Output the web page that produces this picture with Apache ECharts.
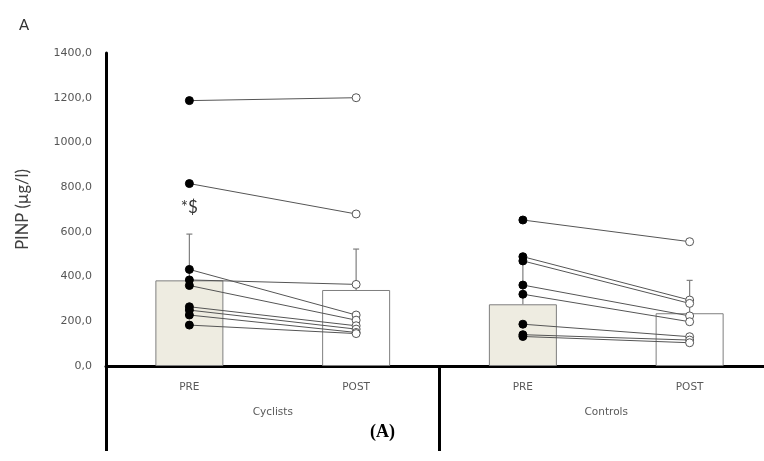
<!DOCTYPE html>
<html>
<head>
<meta charset="utf-8">
<script src="https://cdn.jsdelivr.net/npm/echarts@6/dist/echarts.min.js"></script>
<style>
html, body { margin: 0; padding: 0; background: #fff; }
#map_chart { width: 764px; height: 461px; }
</style>
</head>
<body>
<div id="map_chart"></div>
<script>
// data
var categories = ['PRE', 'POST', 'PRE', 'POST'];
var groups = ['Cyclists', 'Controls'];
var barMeans = [383, 340, 276, 236];
var barSD = [207, 183, 209, 147];
var yTicks = [0, 200, 400, 600, 800, 1000, 1200, 1400];

var cyclistsPre = [1187, 816, 432, 385, 360, 265, 250, 228, 183];
var cyclistsPost = [1200, 680, 228, 365, 205, 180, 165, 150, 145];
var controlsPre = [653, 489, 470, 362, 321, 187, 140, 132];
var controlsPost = [556, 295, 280, 224, 198, 131, 116, 104];

var Container = document.getElementById('map_chart');
var myChart = echarts.init(Container);

var font = 'Lato, "Open Sans", sans-serif';
var tickFont = '"DejaVu Sans", sans-serif';

// one line series per subject
var subjectSeries = [];
function addSubjects(pre, post, offset) {
	for (var i = 0; i < pre.length; i++) {
		var d = ['-', '-', '-', '-'];
		d[offset] = { value: pre[i], itemStyle: { color: '#000', borderColor: '#000' } };
		d[offset + 1] = { value: post[i], itemStyle: { color: '#fff', borderColor: '#555', borderWidth: 1 } };
		subjectSeries.push({
			type: 'line',
			data: d,
			symbol: 'circle',
			symbolSize: 8,
			lineStyle: { color: '#555', width: 1 },
			z: 5,
			animation: false
		});
	}
}
addSubjects(cyclistsPre, cyclistsPost, 0);
addSubjects(controlsPre, controlsPost, 2);

var errData = barMeans.map(function(m, i) { return [i, m, m + barSD[i]]; });

var option = {
	animation: false,
	grid: { left: 106, top: 53, bottom: 95, width: 667, containLabel: false, outerBoundsMode: 'none' },
	xAxis: [{
		type: 'category',
		data: categories,
		axisLine: { lineStyle: { color: '#000', width: 3 } },
		axisTick: { show: false },
		axisLabel: { color: '#595959', fontSize: 10.5, fontFamily: tickFont, margin: 16 }
	}, {
		type: 'category',
		data: groups,
		position: 'bottom',
		axisLine: { show: false },
		axisTick: { show: true, length: 85, lineStyle: { color: '#000', width: 3 } },
		axisLabel: { color: '#595959', fontSize: 10.5, fontFamily: tickFont, margin: 41 }
	}],
	yAxis: {
		type: 'value',
		min: yTicks[0],
		max: yTicks[yTicks.length - 1],
		interval: 200,
		name: 'PINP (µg/l)',
		nameLocation: 'middle',
		nameGap: 75,
		nameTextStyle: { color: '#404040', fontSize: 16.5, fontFamily: font },
		axisLine: { show: true, lineStyle: { color: '#000', width: 3 } },
		axisTick: { show: false },
		splitLine: { show: false },
		axisLabel: {
			color: '#555', fontSize: 11, fontFamily: tickFont, margin: 14,
			formatter: function(v) { return v.toFixed(1).replace('.', ','); }
		}
	},
	series: [{
		type: 'bar',
		barWidth: 68,
		data: barMeans.map(function(v, i) {
			return { value: v, itemStyle: { color: i % 2 === 0 ? '#eeece1' : '#ffffff' } };
		}),
		itemStyle: { borderColor: '#7f7f7f', borderWidth: 1 },
		z: 2,
		markPoint: {
			symbol: 'circle',
			symbolSize: 0,
			data: [{ coord: [0, 707], value: '*$' }],
			label: { show: true, formatter: '*$', color: '#333', fontSize: 17, fontFamily: font, position: 'inside' }
		}
	}, {
		type: 'custom',
		data: errData,
		z: 3,
		renderItem: function(params, api) {
			var base = api.coord([api.value(0), api.value(1)]);
			var top = api.coord([api.value(0), api.value(2)]);
			var st = { stroke: '#7f7f7f', lineWidth: 1.2 };
			return {
				type: 'group',
				children: [
					{ type: 'line', shape: { x1: base[0], y1: base[1], x2: top[0], y2: top[1] }, style: st },
					{ type: 'line', shape: { x1: top[0] - 3, y1: top[1], x2: top[0] + 3, y2: top[1] }, style: st }
				]
			};
		}
	}].concat(subjectSeries),
	graphic: [{
		type: 'text', left: 19, top: 18,
		style: { text: 'A', fontSize: 15, fill: '#333', fontFamily: font }
	}, {
		type: 'text', left: 370, top: 423,
		style: { text: '(A)', fontSize: 18, fontWeight: 'bold', fill: '#000', fontFamily: '"Liberation Serif", serif' }
	}]
};

myChart.setOption(option);
window.onresize = function() {
	myChart.resize();
};
</script>
</body>
</html>
